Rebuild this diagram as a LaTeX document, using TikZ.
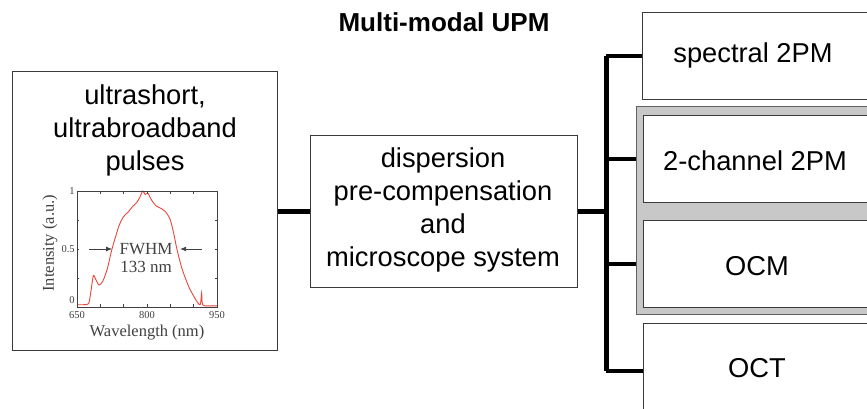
\documentclass[tikz,border=0pt]{standalone}
\usepackage{fontspec}
\setmainfont{Liberation Sans}
\newfontfamily\plotfont{Liberation Serif}
\usetikzlibrary{positioning, arrows.meta}

\definecolor{boxline}{HTML}{3A3A3A}
\definecolor{groupfill}{HTML}{C8C8C8}
\definecolor{plotgray}{HTML}{404040}
\definecolor{specred}{HTML}{E8473A}

\begin{document}
\begin{tikzpicture}[x=1pt, y=-1pt, thick,
    main/.style = {draw=boxline, line width=1.3pt, rectangle, fill=white, inner sep=0pt},
    group/.style = {draw=boxline!80, line width=1.3pt, rectangle, fill=groupfill, inner sep=0pt},
    label/.style = {align=center, font=\fontsize{27.3}{33}\selectfont, inner sep=0pt},
    wire/.style = {line width=4.5pt, black}]
    \clip (0,0) rectangle (867,409);
    \fill[white] (0,0) rectangle (867,409);

    \node[label, font=\fontsize{26}{33}\selectfont\bfseries] (title) at (444,22) {Multi-modal UPM};

    % source and optics
    \node[main, anchor=north west, minimum width=265pt, minimum height=279pt] (pulses) at (12,71) {};
    \node[label] (pulseslbl) at (145,130) {ultrashort,\\ultrabroadband\\pulses};
    \node[main, anchor=north west, minimum width=267pt, minimum height=152pt] (disp) at (310,135) {};
    \node[label] (displbl) at (443,210) {dispersion\\pre-compensation\\and\\microscope system};

    % modalities
    \node[main, anchor=north west, minimum width=226pt, minimum height=87pt] (spec) at (642,12) {};
    \node[label] (speclbl) at (753,55) {spectral 2PM};
    \node[group, anchor=north west, minimum width=240pt, minimum height=208pt] (grp) at (636,106) {};
    \node[main, anchor=north west, minimum width=226pt, minimum height=87pt] (twoch) at (643,115) {};
    \node[label] (twochlbl) at (755,161) {2-channel 2PM};
    \node[main, anchor=north west, minimum width=226pt, minimum height=87pt] (ocm) at (643,220) {};
    \node[label] (ocmlbl) at (757,266) {OCM};
    \node[main, anchor=north west, minimum width=226pt, minimum height=95pt] (oct) at (643,323) {};
    \node[label] (octlbl) at (757,368) {OCT};

    % connectors
    \draw[wire] (pulses.east |- disp) -- (disp.west);
    \draw[wire] (disp.east) -- ++(28,0) coordinate (hub);
    \draw[wire] (hub |- spec.west) -- (hub |- oct.west);
    \draw[wire] (hub |- spec.west) -- (spec.west);
    \draw[wire] (hub |- twoch.west) -- (grp.west |- twoch.west);
    \draw[wire] (hub |- ocm.west) -- (grp.west |- ocm.west);
    \draw[wire] (hub |- oct.west) -- (oct.west);

    % spectrum inset
    \begin{scope}[xshift=77pt, yshift=-307pt, x=0.4667pt, y=116pt, plotgray]
        \draw[specred, line width=0.9pt] plot[smooth, tension=0.45] coordinates {
            (0,0.02) (15,0.02) (25,0.03) (30,0.14) (35,0.27) (40,0.24) (47,0.19)
            (55,0.22) (65,0.33) (75,0.5) (90,0.7) (100,0.78) (110,0.82) (120,0.87)
            (128,0.9) (135,0.95) (141,1.0) (146,0.97) (152,0.98) (160,0.92) (170,0.87)
            (180,0.85) (190,0.82) (200,0.75) (208,0.62) (214,0.5) (225,0.33) (240,0.17)
            (255,0.06) (264,0.02) (267,0.12) (269,0.02) (280,0.01) (300,0.01)};
        \draw[line width=0.8pt] (0,0) rectangle (300,1);
        \foreach \t in {50,100,150,200,250} {
            \draw[line width=0.5pt] (\t,0) -- ++(0,0.03);
            \draw[line width=0.5pt] (\t,1) -- ++(0,-0.03);
        }
        \foreach \t in {0.25,0.5,0.75} {
            \draw[line width=0.5pt] (0,\t) -- ++(5,0);
            \draw[line width=0.5pt] (300,\t) -- ++(-5,0);
        }
        \foreach \v/\t in {0/650,150/800,300/950}
            \node[font=\plotfont\fontsize{10.5}{12}\selectfont, anchor=north, inner sep=1pt] (xt\t) at (\v,-0.03) {\t};
        \foreach \v/\t/\h in {0/0/0.06,0.5/0.5/0.5,1/1/1}
            \node[font=\plotfont\fontsize{10.5}{12}\selectfont, anchor=east, inner sep=1pt] (yt\v) at (-2,\h) {\t};
        \node[font=\plotfont\fontsize{16.5}{18}\selectfont] (xlab) at (150,-0.22) {Wavelength (nm)};
        \node[font=\plotfont\fontsize{16.5}{18}\selectfont, rotate=90] (ylab) at (-58,0.55) {Intensity (a.u.)};
        \node[font=\plotfont\fontsize{17}{19}\selectfont, align=center, inner sep=0pt] (fwhm) at (148,0.42) {FWHM\\[-1pt]133 nm};
        \coordinate (fl) at (26,0.5);
        \coordinate (fr) at (268,0.5);
        \draw[-{Latex[length=6pt, width=5pt]}, line width=0.8pt] (fl) -- (75,0.5);
        \draw[-{Latex[length=6pt, width=5pt]}, line width=0.8pt] (fr) -- (221,0.5);
    \end{scope}
\end{tikzpicture}
\end{document}
